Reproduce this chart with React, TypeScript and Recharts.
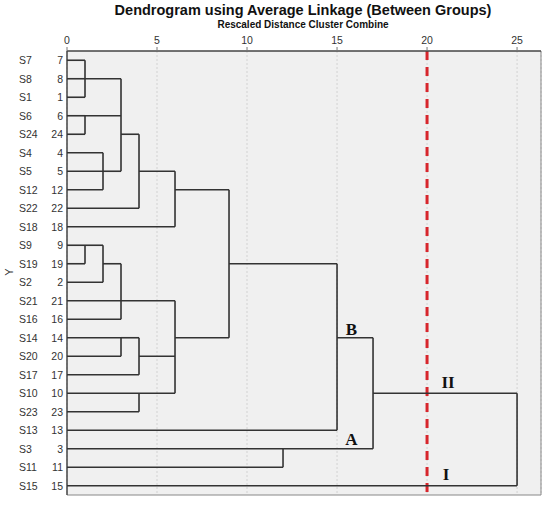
import React from 'react';
import {
  ComposedChart,
  Scatter,
  XAxis,
  YAxis,
  CartesianGrid,
  ReferenceLine,
} from 'recharts';

// leaves, top to bottom
const leafNames = ['S7', 'S8', 'S1', 'S6', 'S24', 'S4', 'S5', 'S12', 'S22', 'S18', 'S9', 'S19', 'S2', 'S21', 'S16', 'S14', 'S20', 'S17', 'S10', 'S23', 'S13', 'S3', 'S11', 'S15'];
const leafIds = [7, 8, 1, 6, 24, 4, 5, 12, 22, 18, 9, 19, 2, 21, 16, 14, 20, 17, 10, 23, 13, 3, 11, 15];

// merges: children are leaf indexes (0-23) or merge indexes (24+)
const mergeChildren = [
  [0, 1, 2], [3, 4], [5, 6, 7], [24, 25, 26], [27, 8], [28, 9],
  [10, 11], [30, 12], [31, 13, 14], [15, 16], [33, 17], [18, 19],
  [32, 34, 35], [29, 36], [37, 20], [21, 22], [38, 39], [40, 23],
];
const mergeHeights = [1, 1, 2, 3, 4, 6, 1, 2, 3, 3, 4, 4, 6, 9, 15, 12, 17, 25];
const mergeRows = [1, 3, 6, 4, 6, 7, 10, 11, 13, 15, 16, 18, 15, 11, 15, 21, 18, 18];

const xTicks = [0, 5, 10, 15, 20, 25];
const cutOff = 20;

const annoText = ['B', 'A', 'II', 'I'];
const annoX = [15.8, 15.8, 21.17, 21.05];
const annoRow = [14.85, 20.8, 17.7, 22.7];

const X_MAX = 26.33;

type Pt = { x: number; y: number };

function buildSegments(): Pt[][] {
  const n = leafNames.length;
  const nodeX: number[] = leafNames.map(() => 0);
  const nodeRow: number[] = leafNames.map((_, i) => i);
  const segs: Pt[][] = [];
  mergeChildren.forEach((kids, m) => {
    const h = mergeHeights[m];
    const rows = kids.map((k) => nodeRow[k]);
    kids.forEach((k) => {
      segs.push([{ x: nodeX[k], y: nodeRow[k] }, { x: h, y: nodeRow[k] }]);
    });
    segs.push([{ x: h, y: Math.min(...rows) }, { x: h, y: Math.max(...rows) }]);
    nodeX[n + m] = h;
    nodeRow[n + m] = mergeRows[m];
  });
  return segs;
}

const segments = buildSegments();
const annotations = annoText.map((t, i) => ({ x: annoX[i], y: annoRow[i], t }));

const LeafTick = (props: any) => {
  const { x, y, payload } = props;
  const i = payload.value;
  return (
    <g fontFamily="Liberation Sans, Arial, sans-serif" fontSize={10.5} fill="#333">
      <text x={19} y={y} dy={4} textAnchor="start">{leafNames[i]}</text>
      <text x={x} y={y} dy={4} textAnchor="end">{leafIds[i]}</text>
    </g>
  );
};

const AnnoShape = (props: any) => {
  const { cx, cy, payload } = props;
  return (
    <text x={cx} y={cy} textAnchor="middle" fontFamily="Liberation Serif, Times New Roman, serif" fontWeight="bold" fontSize={17} fill="#111">
      {payload.t}
    </text>
  );
};

const NoDot = () => <g />;

export default function App() {
  return (
    <div style={{ position: 'absolute', left: 0, top: 0, width: 550, height: 505, background: '#fff' }}>
      <ComposedChart width={550} height={505} margin={{ top: 0, right: 9, bottom: 10, left: 0 }}>
        <CartesianGrid horizontal={false} stroke="#d2d2d2" strokeDasharray="2 2" fill="#f0f0f0" />
        <XAxis
          dataKey="x"
          type="number"
          orientation="top"
          domain={[0, X_MAX]}
          ticks={xTicks}
          height={51}
          tickSize={4}
          tickMargin={3}
          axisLine={{ stroke: '#444', strokeWidth: 1.5 }}
          tickLine={{ stroke: '#777' }}
          tick={{ fontSize: 10.5, fill: '#333', fontFamily: 'Liberation Sans, Arial, sans-serif' }}
          allowDataOverflow
        />
        <YAxis
          dataKey="y"
          type="number"
          domain={[-0.5, 23.5]}
          reversed
          ticks={leafNames.map((_, i) => i)}
          interval={0}
          width={67}
          tickLine={false}
          tickSize={4}
          tickMargin={0}
          axisLine={{ stroke: '#444', strokeWidth: 1.5 }}
          tick={<LeafTick />}
          allowDataOverflow
        />
        <ReferenceLine x={X_MAX} stroke="#888" strokeWidth={1} />
        <ReferenceLine y={23.5} stroke="#888" strokeWidth={1} />
        {segments.map((seg, i) => (
          <Scatter
            key={i}
            data={seg}
            line={{ stroke: '#333', strokeWidth: 1.6 }}
            shape={NoDot}
            isAnimationActive={false}
          />
        ))}
        <ReferenceLine x={cutOff} stroke="#d7262c" strokeWidth={3} strokeDasharray="9 7" />
        <Scatter data={annotations} shape={AnnoShape} isAnimationActive={false} />
      </ComposedChart>
      <svg width={550} height={505} style={{ position: 'absolute', left: 0, top: 0, pointerEvents: 'none' }}>
        <text x={303} y={15} textAnchor="middle" fontFamily="Liberation Sans, Arial, sans-serif" fontWeight="bold" fontSize={14.5} fill="#111">
          Dendrogram using Average Linkage (Between Groups)
        </text>
        <text x={303} y={28} textAnchor="middle" fontFamily="Liberation Sans, Arial, sans-serif" fontWeight="bold" fontSize={10} fill="#111">
          Rescaled Distance Cluster Combine
        </text>
        <text x={13} y={272} textAnchor="middle" transform="rotate(-90 13 272)" fontFamily="Liberation Sans, Arial, sans-serif" fontSize={11} fill="#333">
          Y
        </text>
      </svg>
    </div>
  );
}
